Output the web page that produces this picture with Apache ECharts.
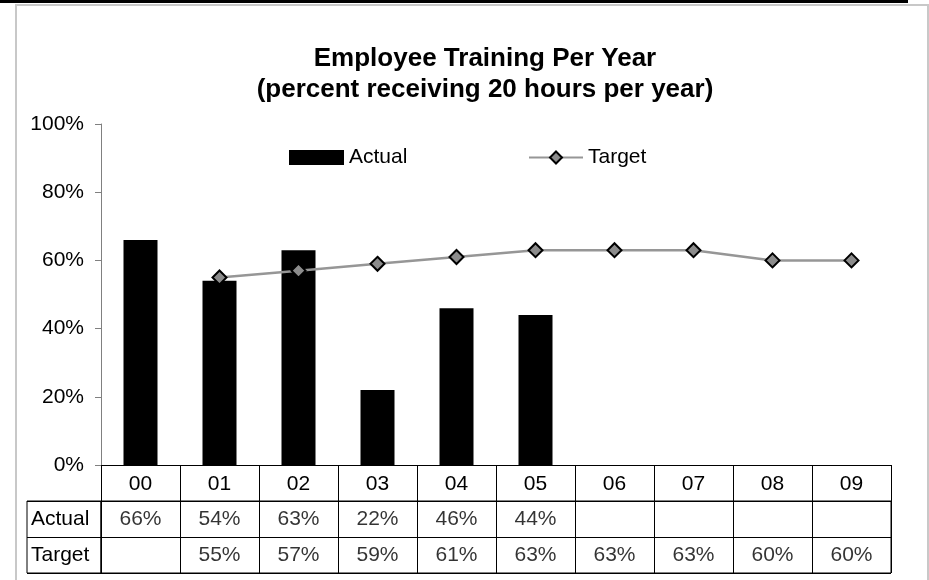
<!DOCTYPE html>
<html>
<head>
<meta charset="utf-8">
<script src="https://cdn.jsdelivr.net/npm/echarts@6/dist/echarts.min.js"></script>
<style>
  html, body { margin: 0; padding: 0; background: #fff; }
  #chart { width: 929px; height: 580px; }
</style>
</head>
<body>
<div id="chart"></div>
<script>
// chart data
var years = ['00', '01', '02', '03', '04', '05', '06', '07', '08', '09'];
var actual = [66, 54, 63, 22, 46, 44, null, null, null, null];
var target = [null, 55, 57, 59, 61, 63, 63, 63, 60, 60];
var rowNames = ['Actual', 'Target'];
var yTicks = [0, 20, 40, 60, 80, 100];

var FONT = '"Liberation Sans", Arial, sans-serif';

// table cells: [year, row, value]
function tableCells(values, row) {
  var cells = [];
  for (var i = 0; i < values.length; i++) {
    if (values[i] != null) {
      cells.push([years[i], row, values[i]]);
    }
  }
  return cells;
}

var myChart = echarts.init(document.getElementById('chart'));

var option = {
  animation: false,
  textStyle: { fontFamily: FONT },
  title: {
    text: 'Employee Training Per Year\n(percent receiving 20 hours per year)',
    left: 480,
    textAlign: 'center',
    top: 38,
    textStyle: {
      fontFamily: FONT,
      fontSize: 26,
      fontWeight: 'bold',
      lineHeight: 31,
      color: '#000'
    }
  },
  legend: [
    {
      data: [{ name: 'Actual', icon: 'rect' }],
      left: 289,
      top: 147,
      padding: 0,
      itemWidth: 55,
      itemHeight: 15,
      textStyle: { fontFamily: FONT, fontSize: 21, color: '#000' }
    },
    {
      data: ['Target'],
      left: 528,
      top: 147,
      padding: 0,
      itemWidth: 54,
      itemHeight: 15,
      textStyle: { fontFamily: FONT, fontSize: 21, color: '#000' }
    }
  ],
  grid: [
    { left: 101, top: 124, width: 790, height: 341 },
    { left: 101, top: 501, width: 790, height: 72, show: true, borderColor: '#000', borderWidth: 1 },
    { left: 27, top: 501, width: 74, height: 72, show: true, borderColor: '#000', borderWidth: 1 }
  ],
  xAxis: [
    {
      type: 'category',
      gridIndex: 0,
      data: years,
      axisLine: { lineStyle: { color: '#000', width: 1 } },
      axisTick: { show: true, length: 36, interval: 0, lineStyle: { color: '#000' } },
      axisLabel: { fontSize: 21, color: '#000', margin: 9, interval: 0 }
    },
    {
      type: 'category',
      gridIndex: 1,
      data: years,
      axisLine: { show: false },
      axisTick: { show: false },
      axisLabel: { show: false },
      splitLine: { show: true, interval: 0, lineStyle: { color: '#000' } }
    },
    {
      type: 'value',
      gridIndex: 2,
      show: false
    }
  ],
  yAxis: [
    {
      type: 'value',
      gridIndex: 0,
      min: yTicks[0],
      max: yTicks[yTicks.length - 1],
      interval: 20,
      axisLine: { show: true, lineStyle: { color: '#808080', width: 1 } },
      axisTick: { show: true, length: 6, lineStyle: { color: '#808080' } },
      axisLabel: { fontSize: 21, color: '#000', margin: 17, formatter: '{value}%' },
      splitLine: { show: false }
    },
    {
      type: 'category',
      gridIndex: 1,
      data: rowNames,
      inverse: true,
      axisLine: { show: false },
      axisTick: { show: false },
      axisLabel: { show: false },
      splitLine: { show: true, interval: 0, lineStyle: { color: '#000' } }
    },
    {
      type: 'category',
      gridIndex: 2,
      data: rowNames,
      inverse: true,
      axisLine: { show: false },
      axisTick: { show: false },
      axisLabel: { inside: true, margin: 4, fontSize: 21, color: '#000', align: 'left' },
      splitLine: { show: true, interval: 0, lineStyle: { color: '#000' } }
    }
  ],
  series: [
    {
      name: 'Actual',
      type: 'bar',
      xAxisIndex: 0,
      yAxisIndex: 0,
      barWidth: 34,
      itemStyle: { color: '#000' },
      data: actual
    },
    {
      name: 'Target',
      type: 'line',
      xAxisIndex: 0,
      yAxisIndex: 0,
      symbol: 'diamond',
      symbolSize: 14,
      z: 5,
      lineStyle: { color: '#969696', width: 2.5 },
      itemStyle: { color: '#8c8c8c', borderColor: '#000', borderWidth: 2 },
      data: target
    },
    {
      type: 'scatter',
      xAxisIndex: 1,
      yAxisIndex: 1,
      symbolSize: 0,
      silent: true,
      label: {
        show: true,
        position: 'inside',
        fontSize: 21,
        color: '#000',
        formatter: function (p) { return p.value[2] + '%'; }
      },
      data: tableCells(actual, 'Actual').concat(tableCells(target, 'Target'))
    }
  ],
  graphic: [
    // screenshot frame
    { type: 'rect', shape: { x: 0, y: 0, width: 908, height: 3 }, style: { fill: '#000' }, silent: true },
    { type: 'rect', shape: { x: 15, y: 4, width: 2, height: 576 }, style: { fill: '#c8c8c8' }, silent: true },
    { type: 'rect', shape: { x: 15, y: 4, width: 914, height: 2 }, style: { fill: '#c8c8c8' }, silent: true },
    { type: 'rect', shape: { x: 927, y: 4, width: 2, height: 576 }, style: { fill: '#c8c8c8' }, silent: true }
  ]
};

myChart.setOption(option);
</script>
</body>
</html>
